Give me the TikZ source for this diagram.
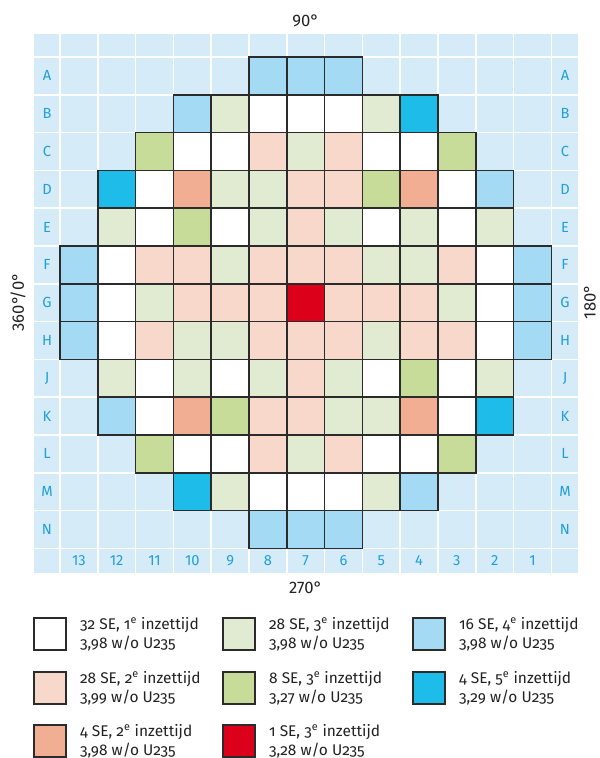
\documentclass[tikz,border=0pt]{standalone}
\usepackage{fontspec}
\setmainfont{Fira Sans}
\newfontfamily\legfont{Fira Sans}[Numbers=OldStyle]
\usetikzlibrary{positioning}
\definecolor{ink}{HTML}{222222}
\definecolor{edge}{HTML}{2B2B2B}
\definecolor{bgL}{HTML}{D6EBF8}
\definecolor{labC}{HTML}{1FA0DC}
\definecolor{w}{HTML}{FFFFFF}
\definecolor{pk}{HTML}{F8D8CA}
\definecolor{pg}{HTML}{E0EBD1}
\definecolor{gn}{HTML}{C6DC98}
\definecolor{sa}{HTML}{F1AE92}
\definecolor{rd}{HTML}{DC001A}
\definecolor{lb}{HTML}{A4DAF3}
\definecolor{cy}{HTML}{1EBCE9}
\tikzset{
  gridln/.style ={draw=white, line width=1.2pt},
  cell/.style   ={fill=#1, draw=edge, line width=1.3pt},
  rowlbl/.style ={font=\fontsize{11}{11}\selectfont, text=labC, inner sep=0pt},
  deg/.style    ={font=\fontsize{12.5}{12.5}\selectfont, text=ink, inner sep=0pt},
  key/.style    ={fill=#1, draw=edge, line width=.8pt, minimum size=24pt, inner sep=0pt},
  keytxt/.style ={font=\legfont\fontsize{11.6}{14.3}\selectfont, text=ink, align=left,
                  inner sep=0pt, right=10pt of #1},
}
\begin{document}
\begin{tikzpicture}[x=0.75pt, y=-0.75pt]
  \useasboundingbox (0,0) rectangle (600,758);
  % core map background
  \fill[bgL] (34,34) rectangle (578,573);
  \foreach \k in {0,...,13} {
    \draw[gridln] ({60+37.8*\k},34) -- ({60+37.8*\k},573);
    \draw[gridln] (34,{57+37.8*\k}) -- (578,{57+37.8*\k});
  }
  % fuel elements: row / first column / colours
  \foreach \r/\s/\codes in {0/5/{lb,lb,lb},
      1/3/{lb,pg,w,w,w,pg,cy},
      2/2/{gn,w,w,pk,pg,pk,w,w,gn},
      3/1/{cy,w,sa,pg,pg,pk,pk,gn,sa,w,lb},
      4/1/{pg,w,gn,w,pg,pk,pg,w,pg,w,pg},
      5/0/{lb,w,pk,pk,pg,pk,pk,pk,pg,pg,pk,w,lb},
      6/0/{lb,w,pg,pk,pk,pk,rd,pk,pk,pk,pg,w,lb},
      7/0/{lb,w,pk,pg,pg,pk,pk,pk,pg,pk,pk,w,lb},
      8/1/{pg,w,pg,w,pg,pk,pg,w,gn,w,pg},
      9/1/{lb,w,sa,gn,pk,pk,pg,pg,sa,w,cy},
      10/2/{gn,w,w,pk,pg,pk,w,w,gn},
      11/3/{cy,pg,w,w,w,pg,lb},
      12/5/{lb,lb,lb}} {
    \foreach \c [count=\i from 0] in \codes
      \draw[cell=\c] ({60+37.8*(\s+\i)},{57+37.8*\r}) rectangle +(37.8,37.8);
  }
  % row and column labels
  \foreach \n [count=\r from 0] in {A,B,C,D,E,F,G,H,J,K,L,M,N} {
    \node[rowlbl] (l\n) at (47,{57+37.8*(\r+0.5)}) {\n};
    \node[rowlbl] (r\n) at (565,{57+37.8*(\r+0.5)}) {\n};
  }
  \foreach \n [count=\i from 0] in {13,12,11,10,9,8,7,6,5,4,3,2,1}
    \node[rowlbl] (c\n) at ({60+37.8*(\i+0.5)},561) {\n};
  % angles
  \node[deg] (top) at (305.7,21) {90°};
  \node[deg] (bot) at (305.7,588) {270°};
  \node[deg, rotate=90] (lft) at (18,302) {360°/0°};
  \node[deg, rotate=90] (rgt) at (590,302) {180°};
  % legend
  \node[key=w]  (k1) at (50,634) {};
  \node[key=pk] (k2) at (50,688) {};
  \node[key=sa] (k3) at (50,741) {};
  \node[key=pg] (k4) at (239,634) {};
  \node[key=gn] (k5) at (239,688) {};
  \node[key=rd] (k6) at (239,741) {};
  \node[key=lb] (k7) at (429,634) {};
  \node[key=cy] (k8) at (429,688) {};
  \node[keytxt=k1] (t1) {32 SE, 1\textsuperscript{e} inzettijd\\3,98 w/o U235};
  \node[keytxt=k2] (t2) {28 SE, 2\textsuperscript{e} inzettijd\\3,99 w/o U235};
  \node[keytxt=k3] (t3) {4 SE, 2\textsuperscript{e} inzettijd\\3,98 w/o U235};
  \node[keytxt=k4] (t4) {28 SE, 3\textsuperscript{e} inzettijd\\3,98 w/o U235};
  \node[keytxt=k5] (t5) {8 SE, 3\textsuperscript{e} inzettijd\\3,27 w/o U235};
  \node[keytxt=k6] (t6) {1 SE, 3\textsuperscript{e} inzettijd\\3,28 w/o U235};
  \node[keytxt=k7] (t7) {16 SE, 4\textsuperscript{e} inzettijd\\3,98 w/o U235};
  \node[keytxt=k8] (t8) {4 SE, 5\textsuperscript{e} inzettijd\\3,29 w/o U235};
\end{tikzpicture}
\end{document}
